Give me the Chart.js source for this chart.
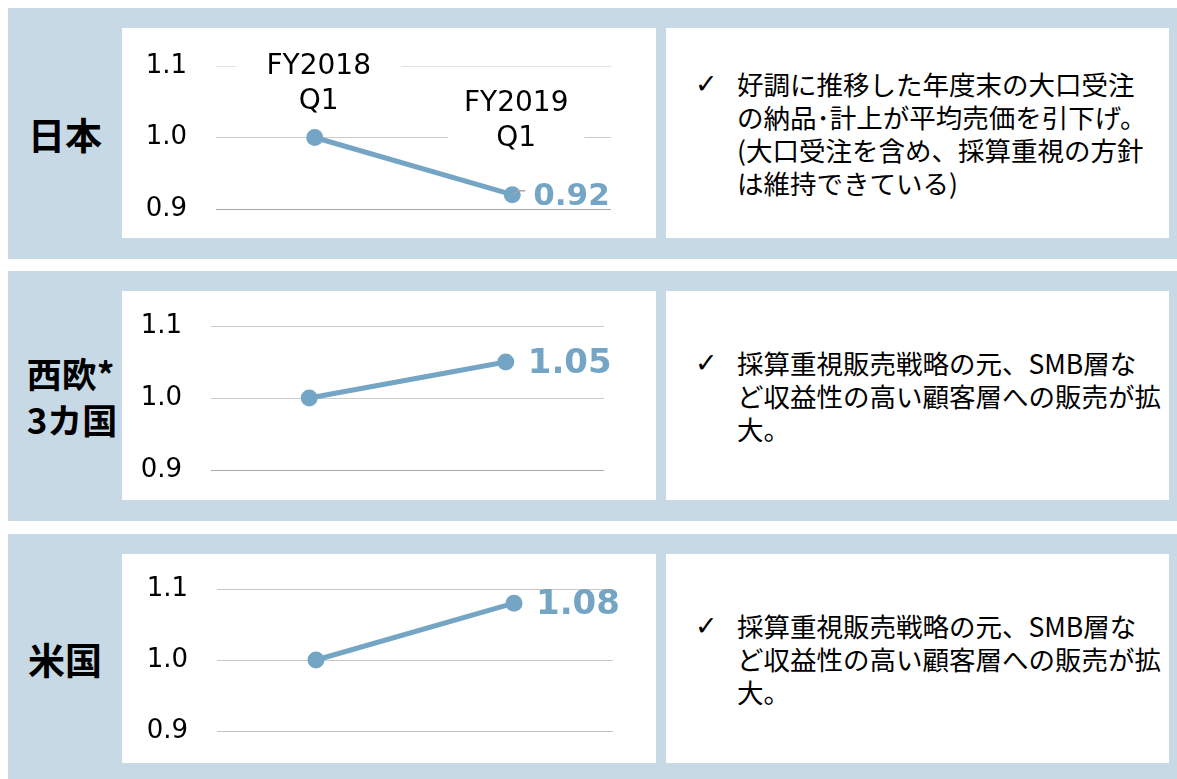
<!DOCTYPE html>
<html>
<head>
<meta charset="utf-8">
<script src="https://cdn.jsdelivr.net/npm/chart.js@4.4.1/dist/chart.umd.min.js"></script>
<style>
  body { margin: 0; background: #fff; width: 1177px; height: 779px; position: relative; overflow: hidden; }
  .panel { position: absolute; left: 8px; width: 1169px; background: #c7d9e5; }
  .region { position: absolute; left: 0; width: 114px; display: flex; align-items: center; justify-content: center;
    font-family: "Noto Sans CJK JP", sans-serif; font-weight: bold; font-size: 37px; line-height: 46px; color: #000; text-align: left; }
  .chartbox { position: absolute; left: 114px; width: 534px; background: #fff; }
  .textbox { position: absolute; left: 658px; width: 503px; background: #fff; display: flex; align-items: center; }
  .textbox .tick { position: absolute; left: 29px; font-family: "DejaVu Sans", sans-serif; font-size: 27px; line-height: 33px; }
  .textbox .body { margin-left: 71px; font-family: "Noto Sans CJK JP", sans-serif; font-size: 26.5px; line-height: 33px; color: #000; }
  canvas { display: block; }
</style>
</head>
<body>

<div class="panel" style="top:8px; height:251px;">
  <div class="region" style="top:0; height:251px;">日本</div>
  <div class="chartbox" style="top:20px; height:210px;"><canvas id="jpChart" width="534" height="210"></canvas></div>
  <div class="textbox" style="top:20px; height:210px;">
    <div class="body"><span class="tick">✓</span>好調に推移した年度末の大口受注<br>の納品･計上が平均売価を引下げ。<br>(大口受注を含め、採算重視の方針<br>は維持できている)</div>
  </div>
</div>

<div class="panel" style="top:271px; height:250px;">
  <div class="region" style="top:0; height:250px; font-size:35px;"><div style="margin-left:14px;">西欧*<br>3カ国</div></div>
  <div class="chartbox" style="top:20px; height:209px;"><canvas id="euChart" width="534" height="209"></canvas></div>
  <div class="textbox" style="top:20px; height:209px;">
    <div class="body"><span class="tick">✓</span>採算重視販売戦略の元、SMB層な<br>ど収益性の高い顧客層への販売が拡<br>大。</div>
  </div>
</div>

<div class="panel" style="top:534px; height:245px;">
  <div class="region" style="top:0; height:250px;">米国</div>
  <div class="chartbox" style="top:20px; height:209px;"><canvas id="usChart" width="534" height="209"></canvas></div>
  <div class="textbox" style="top:20px; height:209px;">
    <div class="body"><span class="tick">✓</span>採算重視販売戦略の元、SMB層な<br>ど収益性の高い顧客層への販売が拡<br>大。</div>
  </div>
</div>

<script>
// data (average selling price index, FY2018 Q1 = 1.0)
const categories = ['FY2018 Q1', 'FY2019 Q1']
const japanValues = [1.0, 0.92]
const europeValues = [1.0, 1.05]
const usValues = [1.0, 1.08]
const yTicks = [0.9, 1.0, 1.1]

const lineColor = '#75a5c4'

// big bold number next to the last point
const valueLabelPlugin = {
  id: 'valueLabel',
  afterDatasetsDraw(chart, args, opts) {
    const meta = chart.getDatasetMeta(0)
    const data = chart.data.datasets[0].data
    const last = meta.data[meta.data.length - 1]
    const ctx = chart.ctx
    ctx.save()
    if (opts.leader) { // little grey leader line like the original
      ctx.strokeStyle = '#a6a6a6'
      ctx.lineWidth = 1.5
      ctx.beginPath()
      ctx.moveTo(last.x + 2, last.y - 1)
      ctx.lineTo(last.x + 6, last.y - 4)
      ctx.lineTo(last.x + 13, last.y - 4)
      ctx.stroke()
    }
    ctx.font = 'bold ' + opts.size + 'px "DejaVu Sans"'
    ctx.fillStyle = lineColor
    ctx.textAlign = 'left'
    ctx.textBaseline = 'middle'
    ctx.fillText(data[data.length - 1].toFixed(2), last.x + opts.gap, last.y + 2)
    ctx.restore()
  }
}

// category names written above the points (only the first chart has them)
const categoryLabelPlugin = {
  id: 'categoryLabel',
  afterDatasetsDraw(chart, args, opts) {
    if (!opts.show) return
    const meta = chart.getDatasetMeta(0)
    const ctx = chart.ctx
    ctx.save()
    ctx.font = '28px "DejaVu Sans"'
    ctx.textAlign = 'center'
    ctx.textBaseline = 'middle'
    meta.data.forEach((pt, i) => {
      const lines = chart.data.labels[i].split(' ')
      const cx = pt.x + 4
      const cy = pt.y - opts.offsets[i]
      const w = Math.max(...lines.map(l => ctx.measureText(l).width)) + opts.pads[i] * 2
      ctx.fillStyle = '#fff'
      ctx.fillRect(cx - w / 2, cy - 36, w, 72)
      ctx.fillStyle = '#000'
      ctx.fillText(lines[0], cx, cy - 17)
      ctx.fillText(lines[1], cx, cy + 18)
    })
    ctx.restore()
  }
}

function makeChart(id, values, layout, gridColors, catLabels, valueLabel) {
  const ctx = document.getElementById(id).getContext('2d')
  return new Chart(ctx, {
    type: 'line',
    data: {
      labels: categories,
      datasets: [{
        data: values,
        borderColor: lineColor,
        backgroundColor: lineColor,
        borderWidth: 5,
        pointRadius: 8.5,
        pointHoverRadius: 8.5,
        pointBorderWidth: 0,
        tension: 0
      }]
    },
    options: {
      responsive: false,
      animation: false,
      events: [],
      layout: { padding: { left: 0, right: layout.right, top: layout.top, bottom: layout.bottom } },
      plugins: {
        legend: { display: false },
        tooltip: { enabled: false },
        categoryLabel: catLabels || { show: false },
        valueLabel: valueLabel
      },
      scales: {
        x: {
          type: 'category',
          display: false,
          offset: true
        },
        y: {
          min: 0.9,
          max: 1.1,
          afterBuildTicks: s => { s.ticks = yTicks.map(v => ({ value: v })) },
          afterFit: s => { s.width = layout.left },
          border: { display: false },
          grid: {
            // invisible tick marks keep the gap between labels and grid
            drawTicks: true,
            tickLength: layout.tickGap,
            tickColor: 'rgba(0,0,0,0)',
            lineWidth: 1,
            color: c => gridColors[yTicks.indexOf(c.tick.value)] || '#cccccc'
          },
          ticks: {
            padding: 0,
            color: '#000',
            font: { family: 'DejaVu Sans', size: 26 },
            callback: v => Number(v).toFixed(1)
          }
        }
      }
    },
    plugins: [valueLabelPlugin, categoryLabelPlugin]
  })
}

makeChart('jpChart', japanValues, { left: 94, right: 45, top: 38, bottom: 29, tickGap: 29 },
  ['#a8a8a8', '#cccccc', '#e2e2e2'],
  { show: true, offsets: [54, 74], pads: [30, 16] },
  { size: 31, gap: 21, leader: true })
makeChart('euChart', europeValues, { left: 89, right: 52, top: 35, bottom: 30, tickGap: 29 },
  ['#aaaaaa', '#cccccc', '#cccccc'], null,
  { size: 34, gap: 22, leader: false })
makeChart('usChart', usValues, { left: 95, right: 43, top: 35, bottom: 32, tickGap: 29 },
  ['#c4c4c4', '#c8c8c8', '#c8c8c8'], null,
  { size: 34, gap: 22, leader: false })
</script>
</body>
</html>
